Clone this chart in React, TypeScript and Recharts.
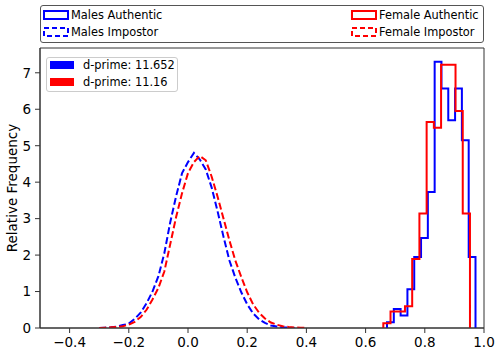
import {
  ComposedChart, Line, XAxis, YAxis, ReferenceArea,
} from 'recharts';

const BLUE = '#0000ff';
const RED = '#ff0000';
const FONT = '"DejaVu Sans", sans-serif';

const X_TICKS = [-0.4, -0.2, 0, 0.2, 0.4, 0.6, 0.8, 1.0];
const Y_TICKS = [0, 1, 2, 3, 4, 5, 6, 7];

// authentic score histograms (bin start, bin width, density per bin)
const maleAuthStart = 0.6723;
const maleAuthWidth = 0.023;
const maleAuthentic = [0.16, 0.52, 0.34, 1.06, 1.95, 2.47, 3.73, 7.30, 6.57, 5.70, 6.57, 5.15, 1.95];

const femaleAuthStart = 0.6598;
const femaleAuthWidth = 0.0244;
const femaleAuthentic = [0.13, 0.45, 0.45, 0.60, 1.89, 3.14, 5.65, 5.49, 7.22, 7.22, 5.95, 3.14];

// impostor score densities, sampled every 0.02 from -0.30
const impStart = -0.3;
const impWidth = 0.02;
const maleImpostor = [
  0, 0.01, 0.02, 0.04, 0.08, 0.12, 0.25, 0.42, 0.68, 1.0, 1.42, 2.05, 2.9, 3.62, 4.25, 4.55, 4.8,
  4.62, 4.35, 3.85, 3.2, 2.5, 1.85, 1.38, 0.98, 0.65, 0.4, 0.24, 0.14, 0.07, 0.04, 0.02, 0.01, 0,
];
const femaleImpostor = [
  0, 0.01, 0.02, 0.03, 0.05, 0.09, 0.17, 0.3, 0.5, 0.78, 1.1, 1.55, 2.3, 3.05, 3.7, 4.25, 4.55,
  4.72, 4.6, 4.15, 3.6, 3.0, 2.4, 1.85, 1.4, 0.98, 0.65, 0.42, 0.26, 0.15, 0.09, 0.05, 0.03, 0.015, 0.01, 0,
];

const DPRIME = [
  { label: 'd-prime: 11.652', color: BLUE },
  { label: 'd-prime: 11.16', color: RED },
];

// step outline that closes down to zero on both ends, like histtype='step'
function stepPoints(start: number, width: number, values: number[]) {
  const pts = [{ x: start, y: 0 }];
  values.forEach((v, i) => pts.push({ x: start + i * width, y: v }));
  pts.push({ x: start + values.length * width, y: 0 });
  return pts;
}

function samplePoints(start: number, width: number, values: number[]) {
  return values.map((v, i) => ({ x: start + i * width, y: v }));
}

const fmtX = (v: number) => v.toFixed(1).replace('-', '\u2212');

function YLabel(props: { viewBox?: { y: number; height: number } }) {
  const cy = (props.viewBox?.y ?? 48) + (props.viewBox?.height ?? 280) / 2;
  return (
    <text x={12} y={cy} transform={`rotate(-90 12 ${cy})`} textAnchor="middle"
      dominantBaseline="central" fontSize={13.5} fill="#000" fontFamily={FONT}>
      Relative Frequency
    </text>
  );
}

function Swatch({ color, dashed, filled }: { color: string; dashed?: boolean; filled?: boolean }) {
  if (filled) {
    return <svg width={24} height={8} style={{ display: 'block' }}><rect x={0} y={0} width={24} height={8} fill={color} /></svg>;
  }
  return (
    <svg width={26} height={10} style={{ display: 'block' }}>
      <rect x={1} y={1} width={24} height={8} fill="none" stroke={color} strokeWidth={2}
        strokeDasharray={dashed ? '5 3' : undefined} />
    </svg>
  );
}

function Item({ left, top, color, dashed, text }: { left: number; top: number; color: string; dashed?: boolean; text: string }) {
  return (
    <div style={{ position: 'absolute', left, top, display: 'flex', alignItems: 'center', gap: 2, height: 14 }}>
      <Swatch color={color} dashed={dashed} />
      <span style={{ fontSize: 11.4, lineHeight: '14px', color: '#000', whiteSpace: 'nowrap' }}>{text}</span>
    </div>
  );
}

export default function App() {
  return (
    <div style={{ position: 'absolute', left: 0, top: 0, width: 500, height: 349, fontFamily: FONT, background: '#fff' }}>
      <ComposedChart width={500} height={349} margin={{ top: 48, right: 16, bottom: 0, left: 0 }}>
        <XAxis type="number" dataKey="x" domain={[-0.5, 1]} ticks={X_TICKS} tickFormatter={fmtX}
          height={21} tickSize={5} tickMargin={4} stroke="#333" allowDataOverflow
          tick={{ fontSize: 13.5, fill: '#000', fontFamily: FONT }} />
        <YAxis type="number" domain={[0, 7.68]} ticks={Y_TICKS} width={40} tickSize={5} tickMargin={4}
          stroke="#333" allowDataOverflow tick={{ fontSize: 13.5, fill: '#000', fontFamily: FONT }}
          label={<YLabel />} />
        <ReferenceArea x1={-0.5} x2={1} y1={0} y2={7.68} fill="none" stroke="#333" ifOverflow="visible" />
        <Line data={stepPoints(maleAuthStart, maleAuthWidth, maleAuthentic)} dataKey="y" type="stepAfter"
          stroke={BLUE} strokeWidth={2} dot={false} activeDot={false} isAnimationActive={false} />
        <Line data={samplePoints(impStart, impWidth, maleImpostor)} dataKey="y" type="linear"
          stroke={BLUE} strokeWidth={2} strokeDasharray="7 3" dot={false} activeDot={false} isAnimationActive={false} />
        <Line data={stepPoints(femaleAuthStart, femaleAuthWidth, femaleAuthentic)} dataKey="y" type="stepAfter"
          stroke={RED} strokeWidth={2} dot={false} activeDot={false} isAnimationActive={false} />
        <Line data={samplePoints(impStart, impWidth, femaleImpostor)} dataKey="y" type="linear"
          stroke={RED} strokeWidth={2} strokeDasharray="7 3" dot={false} activeDot={false} isAnimationActive={false} />
      </ComposedChart>

      {/* top legend */}
      <div style={{
        position: 'absolute', left: 40, top: 5, width: 442, height: 36,
        border: '1px solid #555', borderRadius: 3, background: '#fff',
      }} />
      <Item left={43} top={8} color={BLUE} text="Males Authentic" />
      <Item left={43} top={25} color={BLUE} dashed text="Males Impostor" />
      <Item left={351} top={8} color={RED} text="Female Authentic" />
      <Item left={351} top={25} color={RED} dashed text="Female Impostor" />

      {/* d-prime legend */}
      <div style={{
        position: 'absolute', left: 46, top: 57, width: 130, height: 33,
        border: '1px solid #ccc', borderRadius: 3, background: 'rgba(255,255,255,0.8)',
      }}>
        {DPRIME.map((d, i) => (
          <div key={d.label} style={{ position: 'absolute', left: 3, top: 0 + i * 17, display: 'flex', alignItems: 'center', gap: 9, height: 14 }}>
            <Swatch color={d.color} filled />
            <span style={{ fontSize: 11.4, lineHeight: '14px', color: '#000', whiteSpace: 'nowrap' }}>{d.label}</span>
          </div>
        ))}
      </div>
    </div>
  );
}
